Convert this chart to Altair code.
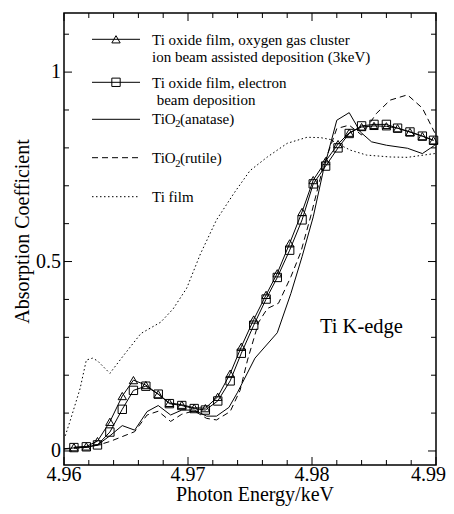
import altair as alt
import pandas as pd

# ---- data ----
ENERGY_FILM = [4.9608, 4.9618, 4.9627, 4.9637, 4.9647, 4.9656, 4.9666, 4.9676, 4.9685, 4.9695,
               4.9705, 4.9714, 4.9724, 4.9734, 4.9743, 4.9753, 4.9763, 4.9772, 4.9782, 4.9792,
               4.9801, 4.9811, 4.9821, 4.9830, 4.9840, 4.9850, 4.9860, 4.9869, 4.9879, 4.9889, 4.9898]
ABS_GCIB = [0.010, 0.012, 0.026, 0.077, 0.145, 0.187, 0.174, 0.150, 0.127, 0.122,
            0.114, 0.113, 0.143, 0.204, 0.275, 0.347, 0.412, 0.469, 0.548, 0.631,
            0.715, 0.765, 0.810, 0.840, 0.855, 0.858, 0.857, 0.852, 0.842, 0.831, 0.820]
ABS_EB = [0.009, 0.011, 0.016, 0.050, 0.110, 0.160, 0.171, 0.150, 0.125, 0.120,
          0.112, 0.108, 0.132, 0.185, 0.258, 0.332, 0.401, 0.458, 0.530, 0.610,
          0.705, 0.752, 0.800, 0.838, 0.858, 0.862, 0.862, 0.852, 0.842, 0.831, 0.820]

E_ANATASE = [4.9600, 4.9608, 4.9619, 4.9627, 4.9637, 4.9647, 4.9657, 4.9667, 4.9676, 4.9686,
             4.9695, 4.9705, 4.9715, 4.9723, 4.9733, 4.9740, 4.9754, 4.9772, 4.9783, 4.9792,
             4.9801, 4.9809, 4.9820, 4.9830, 4.9839, 4.9848, 4.9860, 4.9877, 4.9889, 4.9899]
ABS_ANATASE = [0.006, 0.008, 0.010, 0.016, 0.040, 0.067, 0.055, 0.104, 0.120, 0.095,
               0.108, 0.108, 0.092, 0.092, 0.115, 0.155, 0.245, 0.312, 0.416, 0.513,
               0.618, 0.738, 0.873, 0.893, 0.842, 0.816, 0.807, 0.799, 0.785, 0.807]

E_RUTILE = [4.9600, 4.9608, 4.9619, 4.9628, 4.9637, 4.9647, 4.9657, 4.9667, 4.9676, 4.9686,
            4.9695, 4.9705, 4.9715, 4.9723, 4.9734, 4.9742, 4.9748, 4.9757, 4.9764, 4.9773,
            4.9783, 4.9791, 4.9799, 4.9809, 4.9820, 4.9830, 4.9840, 4.9852, 4.9863, 4.9877,
            4.9889, 4.9899]
ABS_RUTILE = [0.005, 0.007, 0.010, 0.016, 0.025, 0.038, 0.051, 0.095, 0.105, 0.078,
              0.097, 0.106, 0.086, 0.082, 0.104, 0.160, 0.240, 0.340, 0.376, 0.390,
              0.460, 0.525, 0.620, 0.750, 0.851, 0.860, 0.834, 0.891, 0.926, 0.940,
              0.905, 0.840]

E_TI = [4.9601, 4.9605, 4.9613, 4.9618, 4.9623, 4.9627, 4.9637, 4.9648, 4.9662, 4.9678,
        4.9688, 4.9699, 4.9710, 4.9723, 4.9737, 4.9750, 4.9764, 4.9780, 4.9796, 4.9807,
        4.9815, 4.9820, 4.9831, 4.9844, 4.9863, 4.9877, 4.9890, 4.9899]
ABS_TI = [0.040, 0.080, 0.165, 0.240, 0.245, 0.238, 0.205, 0.252, 0.310, 0.340,
          0.375, 0.430, 0.520, 0.610, 0.680, 0.740, 0.776, 0.812, 0.828, 0.827,
          0.822, 0.812, 0.794, 0.781, 0.776, 0.775, 0.781, 0.785]

X_MAJOR = [4.96, 4.97, 4.98, 4.99]
X_LABELS = ["4.96", "4.97", "4.98", "4.99"]
X_MINOR = [4.962, 4.964, 4.966, 4.968, 4.972, 4.974, 4.976, 4.978,
           4.982, 4.984, 4.986, 4.988]
Y_MAJOR = [0, 0.5, 1]
Y_LABELS = ["0", "0.5", "1"]
Y_MINOR = [0.1, 0.2, 0.3, 0.4, 0.6, 0.7, 0.8, 0.9, 1.1]

X_TITLE = "Photon Energy/keV"
Y_TITLE = "Absorption Coefficient"
LEGEND_LINES = [
    ["Ti oxide film, oxygen gas cluster", "ion beam assisted deposition (3keV)"],
    ["Ti oxide film, electron", "beam deposition"],
]
ANNOT = "Ti K-edge"

# ---- layout ----
PAD_L, PAD_T, PAD_R, PAD_B = 56, 5, 10, 41
W, H = 372, 452
FONT = "Liberation Serif, Times New Roman, Times, serif"
LFS = 15
xs = alt.Scale(domain=[4.96, 4.99], nice=False, zero=False)
ys = alt.Scale(domain=[-0.037, 1.156], nice=False, zero=False)


def PX(page_x):
    return page_x - 8 - PAD_L


def PY(page_y):
    return page_y - 8 - PAD_T


XE = alt.X("e:Q", scale=xs, axis=None)
YA = alt.Y("a:Q", scale=ys, axis=None)


def line(vals_x, vals_y, dash=None):
    kw = dict(color="black", strokeWidth=1)
    if dash:
        kw["strokeDash"] = dash
    return alt.Chart(pd.DataFrame({"e": vals_x, "a": vals_y})).mark_line(**kw).encode(x=XE, y=YA)


def points(vals_x, vals_y, shape, size):
    return alt.Chart(pd.DataFrame({"e": vals_x, "a": vals_y})).mark_point(
        shape=shape, size=size, filled=False, color="black", strokeWidth=1, opacity=1
    ).encode(x=XE, y=YA)


def xticks(vals, length):
    d = pd.DataFrame({"v": vals})
    X = alt.X("v:Q", scale=xs, axis=None)
    b = alt.Chart(d).mark_rule(color="black", strokeWidth=1).encode(
        x=X, y=alt.value(H), y2=alt.value(H - length))
    t = alt.Chart(d).mark_rule(color="black", strokeWidth=1).encode(
        x=X, y=alt.value(0), y2=alt.value(length))
    return b + t


def yticks(vals, length):
    d = pd.DataFrame({"v": vals})
    Y = alt.Y("v:Q", scale=ys, axis=None)
    l = alt.Chart(d).mark_rule(color="black", strokeWidth=1).encode(
        y=Y, x=alt.value(0), x2=alt.value(length))
    r = alt.Chart(d).mark_rule(color="black", strokeWidth=1).encode(
        y=Y, x=alt.value(W), x2=alt.value(W - length))
    return l + r


_one = pd.DataFrame({"k": [0]})


def leg_rule(y, dash=None):
    kw = dict(color="black", strokeWidth=1)
    if dash:
        kw["strokeDash"] = dash
    return alt.Chart(_one).mark_rule(**kw).encode(
        x=alt.value(PX(92)), x2=alt.value(PX(140)), y=alt.value(PY(y)))


def leg_point(y, shape, size):
    return alt.Chart(_one).mark_point(shape=shape, size=size, filled=False, color="black",
                                      strokeWidth=1, opacity=1).encode(
        x=alt.value(PX(116)), y=alt.value(PY(y)))


def txt(s, x, y, size=LFS, **kw):
    return alt.Chart(_one).mark_text(text=s, font=FONT, fontSize=size, align="left",
                                     baseline="alphabetic", color="black", **kw).encode(
        x=alt.value(PX(x)), y=alt.value(PY(y)))


legend = (
    leg_rule(39.3) + leg_point(39.3, "triangle-up", 70)
    + txt(LEGEND_LINES[0][0], 152, 44.5) + txt(LEGEND_LINES[0][1], 152, 61.5)
    + leg_rule(82.3) + leg_point(82.3, "square", 70)
    + txt(LEGEND_LINES[1][0], 152, 87.5) + txt(LEGEND_LINES[1][1], 156.7, 104.5)
    + leg_rule(119.3)
    + txt("TiO", 152, 124) + txt("2", 175.3, 127.2, 10.5) + txt("(anatase)", 180, 124)
    + leg_rule(157.7, [6, 4])
    + txt("TiO", 152, 163.3) + txt("2", 175.3, 166.5, 10.5) + txt("(rutile)", 180, 163.3)
    + leg_rule(196.7, [1.5, 2.5])
    + txt("Ti film", 152, 201.7)
)

# axis labels and titles drawn as text marks tied to the scales
xlab_df = pd.DataFrame({"v": X_MAJOR[:-1], "t": X_LABELS[:-1]})
xlabels = alt.Chart(xlab_df).mark_text(font=FONT, fontSize=20, align="center",
                                        baseline="alphabetic", color="black").encode(
    x=alt.X("v:Q", scale=xs, axis=None), y=alt.value(PY(480.5)), text="t:N")
xlab_last = alt.Chart(pd.DataFrame({"v": X_MAJOR[-1:], "t": X_LABELS[-1:]})).mark_text(
    font=FONT, fontSize=20, align="right", baseline="alphabetic", color="black", dx=10).encode(
    x=alt.X("v:Q", scale=xs, axis=None), y=alt.value(PY(480.5)), text="t:N")
ylab_df = pd.DataFrame({"v": Y_MAJOR, "t": Y_LABELS})
ylabels = alt.Chart(ylab_df).mark_text(font=FONT, fontSize=20, align="right",
                                        baseline="middle", color="black", dx=-3).encode(
    y=alt.Y("v:Q", scale=ys, axis=None), x=alt.value(0), text="t:N")
xtitle = alt.Chart(_one).mark_text(text=X_TITLE, font=FONT, fontSize=20, align="center",
                                   baseline="alphabetic", color="black").encode(
    x=alt.value(PX(255)), y=alt.value(PY(501)))
ytitle = alt.Chart(_one).mark_text(text=Y_TITLE, font=FONT, fontSize=20, align="center",
                                   baseline="alphabetic", color="black", angle=270).encode(
    x=alt.value(PX(29)), y=alt.value(PY(231.5)))

chart = alt.layer(
    line(ENERGY_FILM, ABS_GCIB),
    line(ENERGY_FILM, ABS_EB),
    line(E_ANATASE, ABS_ANATASE),
    line(E_RUTILE, ABS_RUTILE, [6, 4]),
    line(E_TI, ABS_TI, [1.5, 2.5]),
    points(ENERGY_FILM, ABS_GCIB, "triangle-up", 70),
    points(ENERGY_FILM, ABS_EB, "square", 70),
    xticks(X_MAJOR, 8), xticks(X_MINOR, 5),
    yticks(Y_MAJOR, 8), yticks(Y_MINOR, 5),
    legend,
    txt(ANNOT, 320, 333, 20.5),
    xlabels, xlab_last, ylabels, xtitle, ytitle,
).properties(
    width=W, height=H,
    autosize=alt.AutoSizeParams(type="none"),
    padding={"left": PAD_L, "top": PAD_T, "right": PAD_R, "bottom": PAD_B},
).configure_view(
    stroke="black", strokeWidth=1.5
)

chart.save("out.html", embed_options={"renderer": "svg", "actions": False})
